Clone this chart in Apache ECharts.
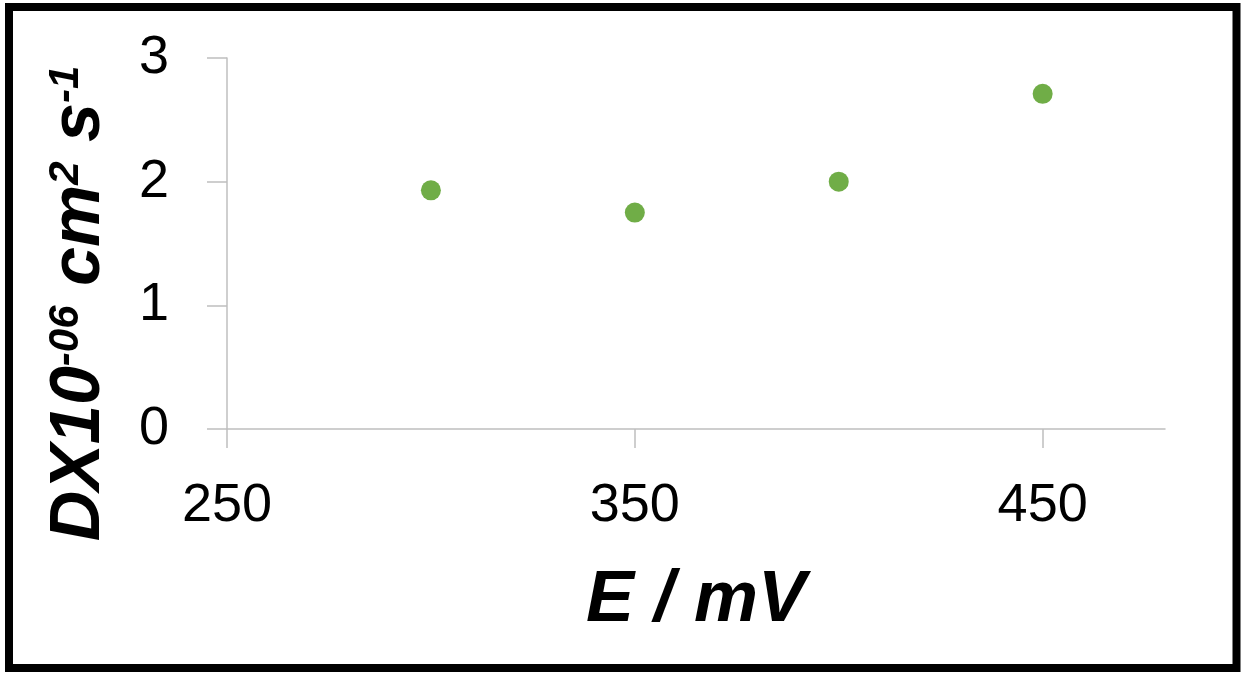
<!DOCTYPE html>
<html>
<head>
<meta charset="utf-8">
<script src="https://cdn.jsdelivr.net/npm/echarts@6/dist/echarts.min.js"></script>
<style>
html,body{margin:0;padding:0;background:#fff;}
#chart{width:1243px;height:674px;}
</style>
</head>
<body>
<div id="chart"></div>
<script>
const potentials = [300, 350, 400, 450];
const diffusion = [1.93, 1.75, 2.0, 2.71];
const xTicks = [250, 350, 450];
const yTicks = [0, 1, 2, 3];

const chart = echarts.init(document.getElementById('chart'));
const axisColor = '#bfbfbf';
const labelFont = 'Liberation Sans, sans-serif';

chart.setOption({
  animation: false,
  backgroundColor: '#ffffff',
  grid: { left: 227, right: 78, top: 58, bottom: 245 },
  xAxis: {
    type: 'value',
    min: 250, max: 480, interval: 100,
    name: 'E / mV',
    nameLocation: 'middle',
    nameGap: 136,
    nameTextStyle: { fontFamily: labelFont, fontSize: 72, fontWeight: 'bold', fontStyle: 'italic', color: '#000' },
    axisLine: { lineStyle: { color: axisColor, width: 1.5 } },
    axisTick: { length: 19, customValues: xTicks, lineStyle: { color: axisColor, width: 1.5 } },
    axisLabel: {
      fontFamily: labelFont, fontSize: 54, color: '#000', margin: 50,
      customValues: xTicks
    },
    splitLine: { show: false }
  },
  yAxis: {
    type: 'value',
    min: 0, max: 3, interval: 1,
    name: '{b|DX10}{s|-06}{b| cm}{s|2}{b| s}{s|-1}',
    nameLocation: 'middle',
    nameRotate: 90,
    nameGap: 112,
    nameTextStyle: {
      padding: [0, 120, 0, 0],
      rich: {
        b: { fontFamily: labelFont, fontSize: 70, fontWeight: 'bold', fontStyle: 'italic', color: '#000', verticalAlign: 'bottom' },
        s: { fontFamily: labelFont, fontSize: 42, fontWeight: 'bold', fontStyle: 'italic', color: '#000', verticalAlign: 'top' }
      }
    },
    axisLine: { show: true, lineStyle: { color: axisColor, width: 1.5 } },
    axisTick: { show: true, length: 20, customValues: yTicks, lineStyle: { color: axisColor, width: 1.5 } },
    axisLabel: {
      fontFamily: labelFont, fontSize: 54, color: '#000', margin: 58,
      customValues: yTicks
    },
    splitLine: { show: false }
  },
  series: [{
    type: 'scatter',
    data: potentials.map((x, i) => [x, diffusion[i]]),
    symbol: 'circle',
    symbolSize: 20,
    itemStyle: { color: '#70ad47', opacity: 1 }
  }],
  graphic: [{
    type: 'rect',
    shape: { x: 9, y: 7, width: 1227.5, height: 661 },
    style: { fill: 'none', stroke: '#000', lineWidth: 8 },
    silent: true
  }]
});
</script>
</body>
</html>
